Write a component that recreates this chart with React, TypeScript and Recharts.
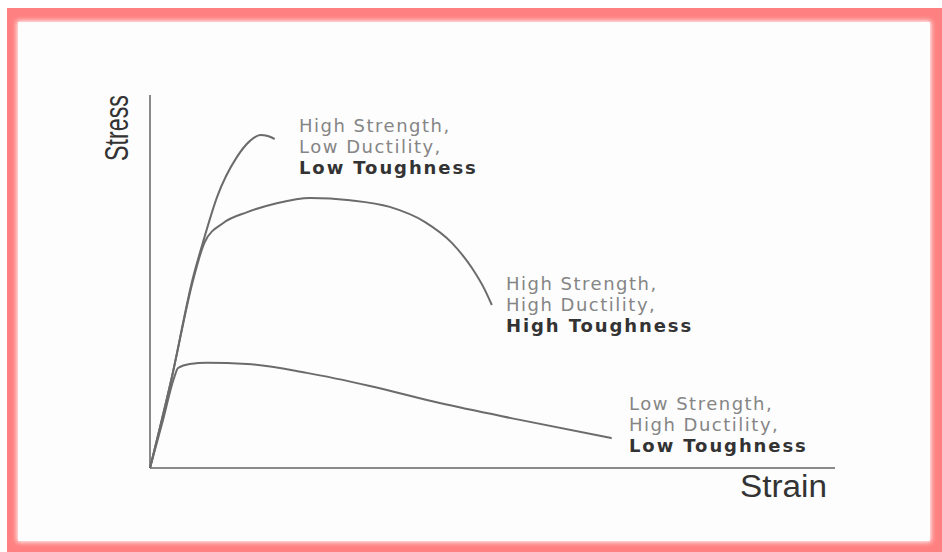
import { LineChart, Line, XAxis, YAxis, ReferenceLine } from "recharts";

// strain / stress in relative units (0-100 on both axes)
const brittleCurve = [
  { strain: 0, stress: 0 },
  { strain: 3.1, stress: 23.6 },
  { strain: 6.3, stress: 51.2 },
  { strain: 7.7, stress: 60.3 },
  { strain: 9.8, stress: 72.7 },
  { strain: 12.7, stress: 83.4 },
  { strain: 14.6, stress: 87.7 },
  { strain: 16.1, stress: 89.3 },
  { strain: 17.2, stress: 89.0 },
  { strain: 18.2, stress: 88.2 },
];

const toughCurve = [
  { strain: 0, stress: 0 },
  { strain: 3.1, stress: 23.6 },
  { strain: 6.3, stress: 50.4 },
  { strain: 8.0, stress: 60.6 },
  { strain: 10.7, stress: 65.7 },
  { strain: 14.2, stress: 68.6 },
  { strain: 18.5, stress: 71.0 },
  { strain: 23.4, stress: 72.4 },
  { strain: 29.2, stress: 71.8 },
  { strain: 35.0, stress: 70.0 },
  { strain: 40.1, stress: 66.0 },
  { strain: 44.1, stress: 60.3 },
  { strain: 47.0, stress: 53.6 },
  { strain: 48.9, stress: 47.7 },
  { strain: 49.9, stress: 43.7 },
];

const ductileCurve = [
  { strain: 0, stress: 0 },
  { strain: 1.9, stress: 12.9 },
  { strain: 3.5, stress: 24.1 },
  { strain: 4.1, stress: 26.8 },
  { strain: 5.8, stress: 27.9 },
  { strain: 8.3, stress: 28.2 },
  { strain: 14.2, stress: 27.9 },
  { strain: 22.9, stress: 25.5 },
  { strain: 32.1, stress: 22.0 },
  { strain: 42.3, stress: 17.4 },
  { strain: 54.0, stress: 12.9 },
  { strain: 67.4, stress: 8.0 },
];

const brittleNote = ["High Strength,", "Low Ductility,", "Low Toughness"];
const toughNote = ["High Strength,", "High Ductility,", "High Toughness"];
const ductileNote = ["Low Strength,", "High Ductility,", "Low Toughness"];

const W = 942;
const H = 552;
const lineColor = "#6b6b6b";

const Note = ({ lines, x, y }: { lines: string[]; x: number; y: number }) => (
  <text x={x} y={y} fontFamily="'DejaVu Sans', sans-serif" fontSize={18}>
    {lines.map((t, i) => (
      <tspan
        key={i}
        x={x}
        y={y + i * 21}
        fill={i === 2 ? "#333" : "#858585"}
        fontWeight={i === 2 ? "bold" : "normal"}
        letterSpacing={i === 2 ? 1.9 : 1.5}
      >
        {t}
      </tspan>
    ))}
  </text>
);

export default function App() {
  return (
    <div style={{ position: "absolute", left: 0, top: 0, width: W, height: H, background: "#fff" }}>
      {/* pink frame */}
      <div style={{ position: "absolute", left: 7, top: 8, width: W - 7, height: H - 8, background: "#ff8080" }} />
      <div
        style={{
          position: "absolute",
          left: 18,
          top: 22,
          width: 930 - 18,
          height: 541 - 22,
          background: "#fdfdfd",
          boxShadow: "0 0 5px 1px #fff",
        }}
      />
      <div style={{ position: "absolute", left: 0, top: 0 }}>
        <LineChart
          width={W}
          height={H}
          margin={{ left: 150, right: 107, top: 95, bottom: 84 }}
        >
          <XAxis type="number" dataKey="strain" domain={[0, 100]} hide allowDuplicatedCategory={false} />
          <YAxis type="number" dataKey="stress" domain={[0, 100]} hide />
          <ReferenceLine x={0} stroke="#8a8a8a" strokeWidth={2} />
          <ReferenceLine y={0} stroke="#8a8a8a" strokeWidth={2} />
          <Line data={brittleCurve} dataKey="stress" type="monotone" stroke={lineColor} strokeWidth={2} dot={false} isAnimationActive={false} />
          <Line data={toughCurve} dataKey="stress" type="monotone" stroke={lineColor} strokeWidth={2} dot={false} isAnimationActive={false} />
          <Line data={ductileCurve} dataKey="stress" type="monotone" stroke={lineColor} strokeWidth={2} dot={false} isAnimationActive={false} />
        </LineChart>
      </div>
      <svg width={W} height={H} style={{ position: "absolute", left: 0, top: 0, pointerEvents: "none" }}>
        <text
          transform="translate(128,128) rotate(-90)"
          textAnchor="middle"
          fontFamily="'Liberation Sans', Arial, sans-serif"
          fontSize={33}
          fill="#333"
          textLength={66}
          lengthAdjust="spacingAndGlyphs"
        >
          Stress
        </text>
        <text
          x={740}
          y={497}
          fontFamily="'Liberation Sans', Arial, sans-serif"
          fontSize={31}
          fill="#333"
          textLength={87}
          lengthAdjust="spacingAndGlyphs"
        >
          Strain
        </text>
        <Note lines={brittleNote} x={299} y={132} />
        <Note lines={toughNote} x={506} y={290} />
        <Note lines={ductileNote} x={629} y={410} />
      </svg>
    </div>
  );
}
